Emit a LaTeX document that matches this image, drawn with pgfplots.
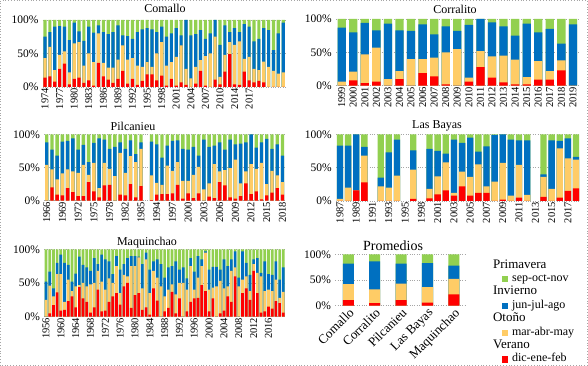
\documentclass[border=0pt]{standalone}
\usepackage{fontspec}
\setmainfont{Liberation Serif}
\usepackage{pgfplots}
\usepackage{pgfplotstable}
\pgfplotsset{compat=1.18}
\definecolor{cv}{HTML}{FF0000}
\definecolor{co}{HTML}{FFCC66}
\definecolor{ci}{HTML}{0070C0}
\definecolor{cp}{HTML}{92D050}

% columns: x = category index, v = Verano top, o = Otono top, b = Invierno top, t = Primavera top (cumulative %)
\pgfplotstableread{
x v o b t
0 14 43 75 100
1 16 60 82 100
2 8 25 90 100
3 27 48 91 100
4 35 53 90 100
5 4 22 70 100
6 12 65 96 100
7 14 67 83 100
8 6 32 69 100
9 10 50 90 100
10 2 37 81 100
11 36 80 92 100
12 16 36 82 100
13 11 29 79 100
14 6 29 82 100
15 12 41 92 100
16 24 62 77 100
17 5 41 76 100
18 12 43 72 100
19 3 32 82 100
20 9 30 86 100
21 19 37 88 100
22 19 30 86 100
23 10 50 82 100
24 17 67 90 100
25 2 32 75 100
26 12 37 80 100
27 2 45 88 100
28 7 62 77 100
29 3 27 100 100
30 0 13 77 100
31 5 30 79 100
32 24 40 85 100
33 2 46 72 100
34 0 50 80 100
35 11 75 100 100
36 4 15 63 100
37 23 48 92 100
38 49 67 82 100
39 4 63 88 100
40 3 68 82 100
41 23 42 94 100
42 10 45 90 100
43 7 27 68 100
44 9 25 72 100
45 7 38 88 100
46 0 30 85 100
47 0 24 55 100
48 0 20 80 100
49 0 22 96 100
}\comallo

\pgfplotstableread{
x v o b t
0 0 6 87 100
1 8 21 80 100
2 4 47 94 100
3 6 57 83 100
4 0 10 93 100
5 10 22 83 100
6 0 40 82 100
7 19 40 92 100
8 14 42 77 100
9 2 50 89 100
10 0 55 82 100
11 6 12 91 100
12 28 52 100 100
13 12 44 95 100
14 5 45 89 100
15 2 39 75 100
16 2 13 93 100
17 9 37 80 100
18 9 22 85 100
19 23 38 63 100
20 0 0 92 100
}\corralito

\pgfplotstableread{
x v o b t
0 0 54 88 100
1 20 47 77 100
2 9 32 68 100
3 8 41 89 100
4 19 47 90 100
5 13 44 94 100
6 7 42 77 100
7 7 54 84 100
8 28 39 58 100
9 14 57 87 100
10 5 19 94 100
11 23 57 92 100
12 24 48 78 100
13 0 37 81 100
14 9 72 88 100
15 8 42 78 100
16 25 67 91 100
17 5 58 70 100
18 22 78 88 100
20 1 38 89 100
21 9 27 85 100
22 10 24 65 100
23 10 53 83 100
24 11 45 90 100
25 24 58 91 100
26 3 30 78 100
27 11 30 77 100
28 4 39 81 100
29 11 51 68 100
30 0 17 92 100
31 6 26 81 100
32 4 55 83 100
33 28 44 88 100
34 23 46 77 100
35 5 49 92 100
36 3 62 85 100
37 7 26 86 100
38 26 44 88 100
39 10 55 100 100
40 14 48 80 100
41 2 57 88 100
42 8 25 93 100
43 12 45 78 100
44 19 38 85 100
45 9 28 68 100
}\pilcanieu

\pgfplotstableread{
x v o b t
0 0 3 83 100
1 0 20 83 100
2 16 16 100 100
3 28 68 81 100
5 0 22 35 100
6 0 20 73 100
7 0 38 92 100
9 3 47 76 100
11 4 18 78 100
12 10 37 75 100
13 16 58 71 100
14 8 12 92 100
15 22 44 87 100
16 8 36 95 100
17 12 55 74 100
18 12 22 82 100
19 0 29 99 100
20 2 57 100 100
21 0 8 92 100
22 5 54 91 100
23 0 9 91 100
25 6 36 40 100
26 0 18 91 100
27 5 79 90 100
28 15 64 94 100
29 19 62 66 100
}\lasbayas

\pgfplotstableread{
x v o b t
0 0 25 52 100
1 5 46 67 100
2 17 30 42 100
3 36 63 80 100
4 9 63 92 100
5 10 22 80 100
6 23 55 77 100
7 30 38 52 100
8 14 45 64 100
9 44 47 89 100
10 27 50 77 100
11 22 45 73 100
12 6 48 68 100
13 14 50 87 100
14 40 68 78 100
15 8 52 92 100
16 9 40 85 100
17 22 57 82 100
18 30 50 63 100
19 35 75 90 100
20 18 35 70 100
21 45 62 78 100
22 50 60 87 100
23 13 75 90 100
24 32 75 90 100
25 35 88 89 100
26 10 42 78 100
27 14 85 95 100
28 3 35 70 100
29 42 68 82 100
30 24 58 85 100
31 0 45 78 100
32 8 30 58 100
33 13 40 73 100
34 37 48 75 100
35 5 33 82 100
36 27 50 70 100
37 0 50 73 100
38 8 40 57 100
39 22 75 87 100
40 27 40 67 100
41 28 58 90 100
42 47 75 85 100
43 38 95 97 100
44 8 40 70 100
45 27 43 74 100
46 0 45 74 100
47 5 53 70 100
48 9 42 85 100
49 30 45 75 100
50 22 68 85 100
51 60 73 97 100
52 0 45 58 100
53 35 55 97 100
54 42 60 80 100
55 25 38 62 100
56 68 78 85 100
57 35 65 87 100
58 6 60 65 100
59 8 38 82 100
60 15 40 63 100
61 12 38 62 100
62 23 55 82 100
63 20 28 55 100
64 6 37 73 100
}\maquinchao

\pgfplotstableread{
x v o b t
0 11 42 82 100
1 5 32 86 100
2 11 43 82 100
3 6 36 83 100
4 22 52 78 100
}\promedios

\pgfplotsset{
  panel/.style={
    scale only axis, anchor=south west,
    ymin=0, ymax=100, ytick={0,50,100}, yticklabels={0\%,50\%,100\%},
    ymajorgrids, grid style={dotted, gray!70, line width=0.6pt},
    axis line style={draw=none}, major tick style={draw=none},
    yticklabel style={font=\fontsize{11.5}{12}\selectfont, inner sep=1pt, xshift=-3pt},
    clip=false,
  },
  yrs/.style={
    xticklabel style={rotate=90, anchor=east, font=\fontsize{10.5}{11}\selectfont, inner sep=1pt},
  },
}
\newcommand\stackbars[2]{%
  \addplot[ybar, bar shift=0pt, bar width=#2, fill=cp, draw=none, forget plot] table[x=x,y=t]{#1};
  \addplot[ybar, bar shift=0pt, bar width=#2, fill=ci, draw=none, forget plot] table[x=x,y=b]{#1};
  \addplot[ybar, bar shift=0pt, bar width=#2, fill=co, draw=none, forget plot] table[x=x,y=o]{#1};
  \addplot[ybar, bar shift=0pt, bar width=#2, fill=cv, draw=none, forget plot] table[x=x,y=v]{#1};
}

\begin{document}
\begin{tikzpicture}
\useasboundingbox (0pt,0pt) rectangle (588pt,366pt);
\draw[gray!70, dotted, line width=0.8pt] (0.6pt,0.6pt) rectangle (587.4pt,365.4pt);

% Comallo
\begin{axis}[panel, yrs, at={(42.6pt,279pt)}, width=243pt, height=67pt,
  xmin=-0.5, xmax=49.5, xtick={0,3,...,42},
  xticklabels={1974,1977,1980,1983,1986,1989,1992,1995,1998,2001,2004,2007,2010,2014,2017}]
\stackbars{\comallo}{0.65}
\end{axis}
\node[font=\fontsize{12}{14}\selectfont] at (165pt,358pt) {Comallo};

% Corralito
\begin{axis}[panel, yrs, at={(335.9pt,280.3pt)}, width=242.8pt, height=66.7pt,
  xmin=-0.5, xmax=20.5, xtick={0,...,20},
  xticklabels={1999,2000,2001,2002,2003,2004,2005,2006,2007,2008,2009,2010,2011,2012,2013,2014,2015,2016,2017,2018,2019}]
\stackbars{\corralito}{0.72}
\end{axis}
\node[font=\fontsize{12}{14}\selectfont] at (455pt,357pt) {Corralito};

% Pilcanieu
\begin{axis}[panel, yrs, at={(44.1pt,165.3pt)}, width=241pt, height=66.4pt,
  xmin=-0.5, xmax=45.5, xtick={0,3,...,45},
  xticklabels={1966,1969,1972,1975,1978,1982,1985,1994,1997,2000,2003,2006,2009,2012,2015,2018}]
\stackbars{\pilcanieu}{0.65}
\end{axis}
\node[font=\fontsize{12}{14}\selectfont] at (133pt,239.5pt) {Pilcanieu};

% Las Bayas
\begin{axis}[panel, yrs, at={(335.9pt,165pt)}, width=244.2pt, height=66.7pt,
  xmin=-0.5, xmax=29.5, xtick={0,2,...,28},
  xticklabels={1987,1989,1991,1993,1995,1998,2001,2003,2005,2007,2009,2011,2013,2015,2017}]
\stackbars{\lasbayas}{0.78}
\end{axis}
\node[font=\fontsize{12}{14}\selectfont] at (437pt,240pt) {Las Bayas};

% Maquinchao
\begin{axis}[panel, yrs, at={(44.15pt,49.3pt)}, width=241pt, height=67.4pt,
  xmin=-0.5, xmax=64.5, xtick={0,4,...,60},
  xticklabels={1956,1960,1964,1968,1972,1976,1980,1984,1988,1992,1996,2000,2004,2008,2012,2016}]
\stackbars{\maquinchao}{0.72}
\end{axis}
\node[font=\fontsize{12}{14}\selectfont] at (147pt,123pt) {Maquinchao};

% Promedios
\begin{axis}[panel, at={(335.1pt,60.3pt)}, width=132pt, height=51.4pt,
  xmin=-0.5, xmax=4.5, xtick={0,...,4},
  xticklabels={Comallo,Corralito,Pilcanieu,Las Bayas,Maquinchao},
  xticklabel style={rotate=45, anchor=north east, font=\fontsize{13}{14}\selectfont, inner sep=1pt},
  legend cell align=left,
  legend style={at={(1.265,0.92)}, anchor=north west, draw=none, fill=none,
    inner sep=0pt, row sep=0pt, column sep=3pt,
    font=\fontsize{12}{13}\selectfont,
    nodes={text height=8.3pt, text depth=2.7pt, inner sep=1.2pt}}]
\stackbars{\promedios}{0.42}
\addlegendimage{empty legend}
\addlegendentry{\hspace*{-19pt}\fontsize{13}{14}\selectfont Primavera}
\addlegendimage{legend image code/.code={\fill[cp] (0pt,-2.6pt) rectangle (5.2pt,2.6pt);}}
\addlegendentry{sep-oct-nov}
\addlegendimage{empty legend}
\addlegendentry{\hspace*{-19pt}\fontsize{13}{14}\selectfont Invierno}
\addlegendimage{legend image code/.code={\fill[ci] (0pt,-2.6pt) rectangle (5.2pt,2.6pt);}}
\addlegendentry{jun-jul-ago}
\addlegendimage{empty legend}
\addlegendentry{\hspace*{-19pt}\fontsize{13}{14}\selectfont Otoño}
\addlegendimage{legend image code/.code={\fill[co] (0pt,-2.6pt) rectangle (5.2pt,2.6pt);}}
\addlegendentry{mar-abr-may}
\addlegendimage{empty legend}
\addlegendentry{\hspace*{-19pt}\fontsize{13}{14}\selectfont Verano}
\addlegendimage{legend image code/.code={\fill[cv] (0pt,-2.6pt) rectangle (5.2pt,2.6pt);}}
\addlegendentry{dic-ene-feb}
\end{axis}
\node[font=\fontsize{14}{16}\selectfont] at (393pt,120.5pt) {Promedios};
\end{tikzpicture}
\end{document}
